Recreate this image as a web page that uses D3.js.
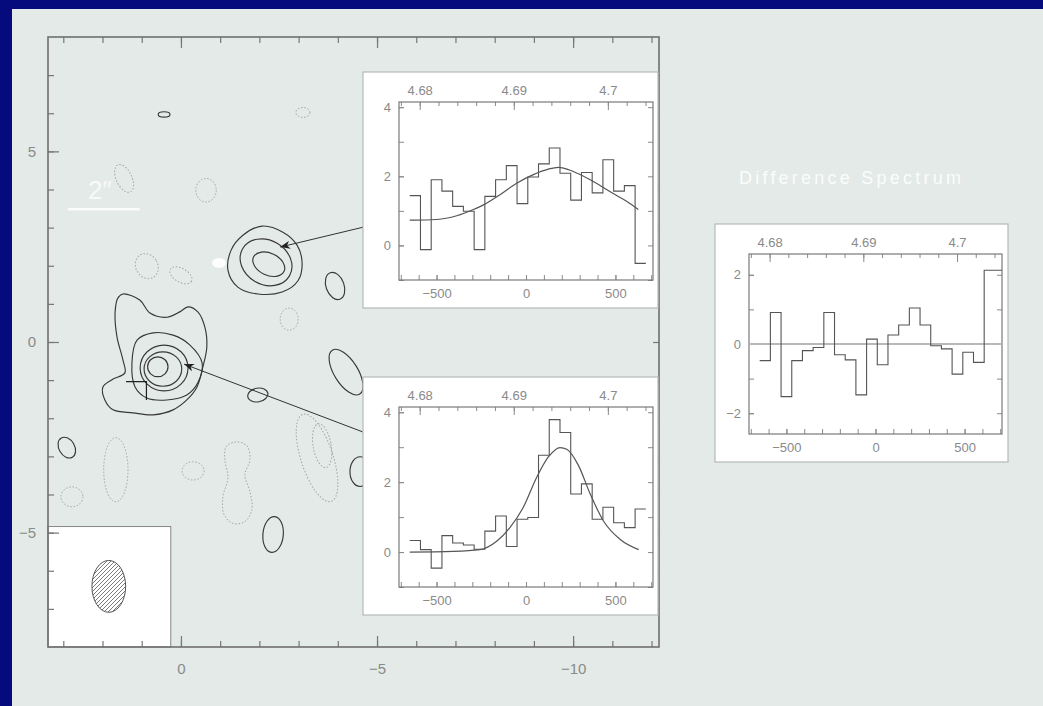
<!DOCTYPE html>
<html>
<head>
<meta charset="utf-8">
<script src="https://cdn.jsdelivr.net/npm/d3@7"></script>
<style>
body{margin:0;background:#050a7d;}
svg{display:block;}
text{font-family:"Liberation Sans",Arial,sans-serif;}
</style>
</head>
<body>
<svg></svg>
<script>
// map tick labels (arcsec offsets)
var mapXTicks = [0,-5,-10]
var mapYTicks = [5,0,-5]

// spectrum axes
var velTicks = [-500,0,500]
var waveTicks = [4.68,4.69,4.7]

// left edges of the 60 km/s channels
var binLeft = [-650,-590,-530,-470,-410,-350,-290,-230,-170,-110,-50,10,
               70,130,190,250,310,370,430,490,550,610,670,730]

// upper source spectrum
var spec1Flux = [1.44,-0.12,1.90,1.57,1.13,0.99,-0.12,1.42,1.90,2.31,1.21,
                 1.98,2.36,2.82,2.09,1.31,2.11,1.52,2.48,1.57,1.73,-0.52]
var fit1Vel  = [-650,-620,-499,-387,-294,-235,-145,-52,41,125,181,264,376,488,562,628]
var fit1Flux = [0.73,0.73,0.75,0.86,1.04,1.18,1.47,1.80,2.05,2.21,2.26,2.14,1.85,1.50,1.28,1.04]

// main source spectrum
var spec2Flux = [0.33,0.07,-0.46,0.47,0.26,0.20,0.08,0.60,1.03,0.16,0.94,
                 0.99,2.77,3.79,3.42,1.66,1.95,0.94,1.28,0.84,0.70,1.23]
var fit2Vel  = [-650,-407,-258,-164,-90,-15,60,125,191,228,293,359,433,527,630]
var fit2Flux = [0.00,0.02,0.07,0.31,0.70,1.28,2.14,2.72,2.99,2.94,2.48,1.66,0.89,0.36,0.07]

// difference spectrum
var diffFlux = [-0.48,0.91,-1.52,-0.48,-0.19,-0.10,0.91,-0.31,-0.46,-1.47,0.14,
                -0.60,0.26,0.55,1.04,0.55,-0.05,-0.14,-0.87,-0.24,-0.53,2.13,2.13]

// positive contours, ellipses in arcsec (x, y, rx, ry, pa)
var posEllipses = [
  {x:-2.17,y:2.09,rx:0.69,ry:0.58,pa:30},
  {x:-2.24,y:2.04,rx:0.43,ry:0.29,pa:25},
  {x:0.43,y:-0.68,rx:0.61,ry:0.60,pa:0},
  {x:0.46,y:-0.71,rx:0.48,ry:0.45,pa:0},
  {x:0.59,y:-0.65,rx:0.26,ry:0.26,pa:0},
  {x:0.43,y:5.97,rx:0.15,ry:0.07,pa:0},
  {x:-3.93,y:1.47,rx:0.23,ry:0.37,pa:-20},
  {x:-4.21,y:-0.79,rx:0.66,ry:0.31,pa:58},
  {x:-1.96,y:-1.39,rx:0.26,ry:0.18,pa:-10},
  {x:2.91,y:-2.77,rx:0.20,ry:0.29,pa:-30},
  {x:-2.35,y:-5.05,rx:0.26,ry:0.47,pa:5},
  {x:-4.57,y:-3.40,rx:0.26,ry:0.39,pa:0}
]
// negative contours
var negEllipses = [
  {x:1.45,y:4.29,rx:0.20,ry:0.39,pa:-25},
  {x:-0.64,y:3.98,rx:0.26,ry:0.31,pa:0},
  {x:0.87,y:1.99,rx:0.28,ry:0.34,pa:-30},
  {x:0.00,y:1.75,rx:0.31,ry:0.18,pa:30},
  {x:-2.76,y:0.60,rx:0.23,ry:0.29,pa:0},
  {x:-3.11,y:6.02,rx:0.18,ry:0.13,pa:0},
  {x:1.66,y:-3.35,rx:0.31,ry:0.84,pa:0},
  {x:2.78,y:-4.06,rx:0.28,ry:0.26,pa:0},
  {x:-0.31,y:-3.38,rx:0.28,ry:0.24,pa:0},
  {x:-3.47,y:-3.04,rx:0.41,ry:1.20,pa:-18},
  {x:-3.60,y:-2.72,rx:0.23,ry:0.58,pa:-10}
]
// irregular contours, outlines in arcsec
var upperOuter = [[-2.07,3.04],[-2.60,2.88],[-2.96,2.54],[-3.09,2.07],[-2.98,1.60],
  [-2.58,1.31],[-1.96,1.26],[-1.45,1.44],[-1.20,1.88],[-1.28,2.41],[-1.58,2.80]]
var mainOuter = [[1.48,1.26],[1.05,1.10],[0.79,0.76],[0.36,0.65],[0.03,0.79],[-0.18,0.92],
  [-0.43,0.79],[-0.61,0.39],[-0.66,-0.13],[-0.56,-0.65],[-0.41,-1.18],[-0.15,-1.52],
  [0.20,-1.78],[0.71,-1.91],[1.22,-1.86],[1.73,-1.78],[1.94,-1.52],[1.99,-1.18],
  [1.76,-0.99],[1.43,-0.81],[1.48,-0.47],[1.63,0.13],[1.68,0.76],[1.61,1.15]]
var mainSecond = [[1.12,0.05],[0.71,0.24],[0.20,0.18],[-0.23,-0.08],[-0.54,-0.55],
  [-0.43,-1.07],[-0.15,-1.39],[0.36,-1.52],[0.87,-1.47],[1.17,-1.18],[1.25,-0.55]]
var peanut = [[-1.40,-2.62],[-1.68,-2.72],[-1.76,-3.09],[-1.63,-3.48],[-1.76,-3.93],
  [-1.81,-4.40],[-1.63,-4.71],[-1.33,-4.76],[-1.10,-4.53],[-1.07,-4.06],[-1.20,-3.56],
  [-1.12,-3.09],[-1.15,-2.75]]

// beam
var beam = {x:1.84,y:-6.41,rx:0.43,ry:0.68}
// arrows from spectra to sources: [from, to]
var arrows = [[[-4.64,3.01],[-2.53,2.49]],[[-4.64,-2.36],[-0.08,-0.58]]]

var svg = d3.select("svg").attr("width",1043).attr("height",706)

svg.append("rect").attr("width",1043).attr("height",706).attr("fill","#050a7d")
svg.append("rect").attr("x",12).attr("y",9).attr("width",1031).attr("height",697)
   .attr("fill","#e3eae7")

var defs = svg.append("defs")
defs.append("pattern").attr("id","hatch").attr("patternUnits","userSpaceOnUse")
   .attr("width",4).attr("height",4)
   .append("path").attr("d","M-1,1 l2,-2 M0,4 l4,-4 M3,5 l2,-2")
   .attr("stroke","#555").attr("stroke-width",0.8)
defs.append("marker").attr("id","head").attr("markerUnits","userSpaceOnUse")
   .attr("markerWidth",11).attr("markerHeight",8).attr("refX",10).attr("refY",4)
   .attr("orient","auto")
   .append("path").attr("d","M0,0 L10,4 L0,8 L3,4 z").attr("fill","#222")

var xScale = d3.scaleLinear().domain([3.39,-12.19]).range([48,659])
var yScale = d3.scaleLinear().domain([8,-8]).range([37,647])
var intFmt = d3.format("d")

var drawEllipses = function(g, list, cls)
{
    g.selectAll("ellipse."+cls).data(list).enter().append("ellipse")
     .classed(cls,true)
     .attr("cx",function(d){return xScale(d.x)})
     .attr("cy",function(d){return yScale(d.y)})
     .attr("rx",function(d){return Math.abs(xScale(d.rx)-xScale(0))})
     .attr("ry",function(d){return Math.abs(yScale(d.ry)-yScale(0))})
     .attr("transform",function(d){return "rotate("+d.pa+","+xScale(d.x)+","+yScale(d.y)+")"})
}

var drawMap = function()
{
    var g = svg.append("g")
    var line = d3.line().x(function(d){return xScale(d[0])}).y(function(d){return yScale(d[1])})
        .curve(d3.curveCatmullRomClosed.alpha(0.5))

    var neg = g.append("g").attr("fill","none").attr("stroke","#a2a6a4")
        .attr("stroke-width",1).attr("stroke-dasharray","1.5,1.8")
    drawEllipses(neg,negEllipses,"neg")
    neg.append("path").attr("d",line(peanut))

    var pos = g.append("g").attr("fill","none").attr("stroke","#383838")
        .attr("stroke-width",1.15)
    drawEllipses(pos,posEllipses,"pos")
    pos.append("path").attr("d",line(upperOuter))
    pos.append("path").attr("d",line(mainOuter))
    pos.append("path").attr("d",line(mainSecond))

    // cross marker at the optical position
    g.append("path").attr("fill","none").attr("stroke","#222").attr("stroke-width",1.2)
     .attr("d","M"+xScale(1.40)+","+yScale(-1.04)+"H"+xScale(0.88)+"V"+yScale(-1.52))

    // white annotations
    g.append("ellipse").attr("cx",xScale(-0.97)).attr("cy",yScale(2.07))
     .attr("rx",7).attr("ry",5).attr("fill","#fff").attr("opacity",0.9)
    g.append("line").attr("x1",xScale(2.88)).attr("x2",xScale(1.05))
     .attr("y1",yScale(3.48)).attr("y2",yScale(3.48))
     .attr("stroke","#fff").attr("stroke-width",2.5).attr("opacity",0.85)
    g.append("text").text("2\u2033").attr("x",xScale(2.07)).attr("y",yScale(3.75))
     .attr("text-anchor","middle").attr("font-size",26).attr("fill","#fff").attr("opacity",0.75)

    // beam box
    g.append("rect").attr("x",xScale(3.39)).attr("y",yScale(-4.84))
     .attr("width",xScale(0.26)-xScale(3.39)).attr("height",yScale(-8)-yScale(-4.84))
     .attr("fill","#fff").attr("stroke","#888").attr("stroke-width",1)
    g.append("ellipse").attr("cx",xScale(beam.x)).attr("cy",yScale(beam.y))
     .attr("rx",Math.abs(xScale(beam.rx)-xScale(0))).attr("ry",Math.abs(yScale(beam.ry)-yScale(0)))
     .attr("fill","url(#hatch)").attr("stroke","#555").attr("stroke-width",1)

    // frame and ticks
    var minorX = d3.range(-12,4,1), minorY = d3.range(-7,8,1)
    var axes = svg.append("g").classed("mapaxes",true)
    axes.append("g").attr("transform","translate(0,647)")
        .call(d3.axisBottom(xScale).tickValues(minorX).tickSize(-6).tickFormat(""))
    axes.append("g").attr("transform","translate(0,647)")
        .call(d3.axisBottom(xScale).tickValues(mapXTicks).tickSize(-11).tickPadding(16).tickFormat(intFmt))
    axes.append("g").attr("transform","translate(0,37)")
        .call(d3.axisTop(xScale).tickValues(minorX).tickSize(-6).tickFormat(""))
    axes.append("g").attr("transform","translate(0,37)")
        .call(d3.axisTop(xScale).tickValues(mapXTicks).tickSize(-11).tickFormat(""))
    axes.append("g").attr("transform","translate(48,0)")
        .call(d3.axisLeft(yScale).tickValues(minorY).tickSize(-6).tickFormat(""))
    axes.append("g").attr("transform","translate(48,0)")
        .call(d3.axisLeft(yScale).tickValues(mapYTicks).tickSize(-11).tickPadding(12).tickFormat(intFmt))
    axes.append("g").attr("transform","translate(659,0)")
        .call(d3.axisRight(yScale).tickValues(minorY).tickSize(-6).tickFormat(""))
    axes.selectAll(".domain").remove()
    axes.selectAll(".tick line").attr("stroke","#777").attr("stroke-width",1.2)
    axes.selectAll(".tick text").attr("fill","#8a8a8a").attr("font-size",15)
        .attr("font-family","'Liberation Sans',Arial,sans-serif")
    svg.append("rect").attr("x",48).attr("y",37).attr("width",611).attr("height",610)
       .attr("fill","none").attr("stroke","#6f6f6f").attr("stroke-width",1.6)
}

var drawArrows = function()
{
    svg.append("g").selectAll("line").data(arrows).enter().append("line")
       .attr("x1",function(d){return xScale(d[0][0])})
       .attr("y1",function(d){return yScale(d[0][1])})
       .attr("x2",function(d){return xScale(d[1][0])})
       .attr("y2",function(d){return yScale(d[1][1])})
       .attr("stroke","#333").attr("stroke-width",1).attr("marker-end","url(#head)")
}

var clipCount = 0
var drawSpectrum = function(box, plot, flux, fitVel, fitFlux, yDomain, yMinor, yMajor)
{
    svg.append("rect").attr("x",box.x).attr("y",box.y).attr("width",box.w).attr("height",box.h)
       .attr("fill","#fff").attr("stroke","#b5b9b7").attr("stroke-width",1.2)

    var w = plot.right-plot.left, h = plot.bottom-plot.top
    var g = svg.append("g").attr("transform","translate("+plot.left+","+plot.top+")")
    var xs = d3.scaleLinear().domain([-710,710]).range([0,w])
    var ws = d3.scaleLinear().domain([4.6778,4.7048]).range([0,w])
    var ys = d3.scaleLinear().domain(yDomain).range([h,0])

    var id = "clip"+(clipCount++)
    defs.append("clipPath").attr("id",id).append("rect").attr("width",w).attr("height",h)

    var ax = g.append("g")
    ax.append("g").attr("transform","translate(0,"+h+")")
      .call(d3.axisBottom(xs).tickValues(d3.range(-700,701,100)).tickSize(-5).tickFormat(""))
    ax.append("g").attr("transform","translate(0,"+h+")")
      .call(d3.axisBottom(xs).tickValues(velTicks).tickSize(-5).tickPadding(9).tickFormat(intFmt))
    var waveMinor = d3.range(0,14).map(function(i){return 4.678+i*0.002})
    ax.append("g")
      .call(d3.axisTop(ws).tickValues(waveMinor).tickSize(-4).tickFormat(""))
    ax.append("g")
      .call(d3.axisTop(ws).tickValues(waveTicks).tickSize(-8).tickPadding(7)
            .tickFormat(function(d){return String(+d.toFixed(2))}))
    ax.append("g")
      .call(d3.axisLeft(ys).tickValues(yMinor).tickSize(-5).tickFormat(""))
    ax.append("g")
      .call(d3.axisLeft(ys).tickValues(yMajor).tickSize(-5).tickPadding(8).tickFormat(intFmt))
    ax.append("g").attr("transform","translate("+w+",0)")
      .call(d3.axisRight(ys).tickValues(yMinor).tickSize(-5).tickFormat(""))
    ax.selectAll(".domain").remove()
    ax.selectAll(".tick line").attr("stroke","#8a8a8a")
    ax.selectAll(".tick text").attr("fill","#8a8a8a").attr("font-size",13)
      .attr("font-family","'Liberation Sans',Arial,sans-serif")

    g.append("rect").attr("width",w).attr("height",h).attr("fill","none")
     .attr("stroke","#7a7a7a").attr("stroke-width",1.2)

    var plotArea = g.append("g").attr("clip-path","url(#"+id+")")
    if (!fitVel) {
        plotArea.append("line").attr("x1",0).attr("x2",w).attr("y1",ys(0)).attr("y2",ys(0))
          .attr("stroke","#b8b8b8").attr("stroke-width",2)
    }
    var pts = flux.map(function(f,i){return [binLeft[i],f]})
    pts.push([binLeft[flux.length],flux[flux.length-1]])
    plotArea.append("path").attr("fill","none").attr("stroke","#555").attr("stroke-width",1.1)
      .attr("d",d3.line().x(function(d){return xs(d[0])}).y(function(d){return ys(d[1])})
               .curve(d3.curveStepAfter)(pts))
    if (fitVel) {
        var fp = fitVel.map(function(v,i){return [v,fitFlux[i]]})
        plotArea.append("path").attr("fill","none").attr("stroke","#555").attr("stroke-width",1.2)
          .attr("d",d3.line().x(function(d){return xs(d[0])}).y(function(d){return ys(d[1])})
                   .curve(d3.curveMonotoneX)(fp))
    }
}

drawMap()
drawArrows()
drawSpectrum({x:363,y:72,w:295,h:236},{left:399,top:102,right:653,bottom:280},
             spec1Flux,fit1Vel,fit1Flux,[-1,4.15],[-1,0,1,2,3,4],[0,2,4])
drawSpectrum({x:363,y:377,w:295,h:238},{left:399,top:407,right:653,bottom:587},
             spec2Flux,fit2Vel,fit2Flux,[-1,4.15],[-1,0,1,2,3,4],[0,2,4])
drawSpectrum({x:715,y:224,w:293,h:238},{left:749,top:254,right:1002,bottom:434},
             diffFlux,null,null,[-2.6,2.6],[-2,-1,0,1,2],[-2,0,2])

svg.append("text").text("Difference Spectrum").attr("x",850).attr("y",184)
   .attr("text-anchor","middle").attr("font-size",18).attr("fill","#fff")
   .attr("textLength",222).attr("opacity",0.9)
</script>
</body>
</html>
